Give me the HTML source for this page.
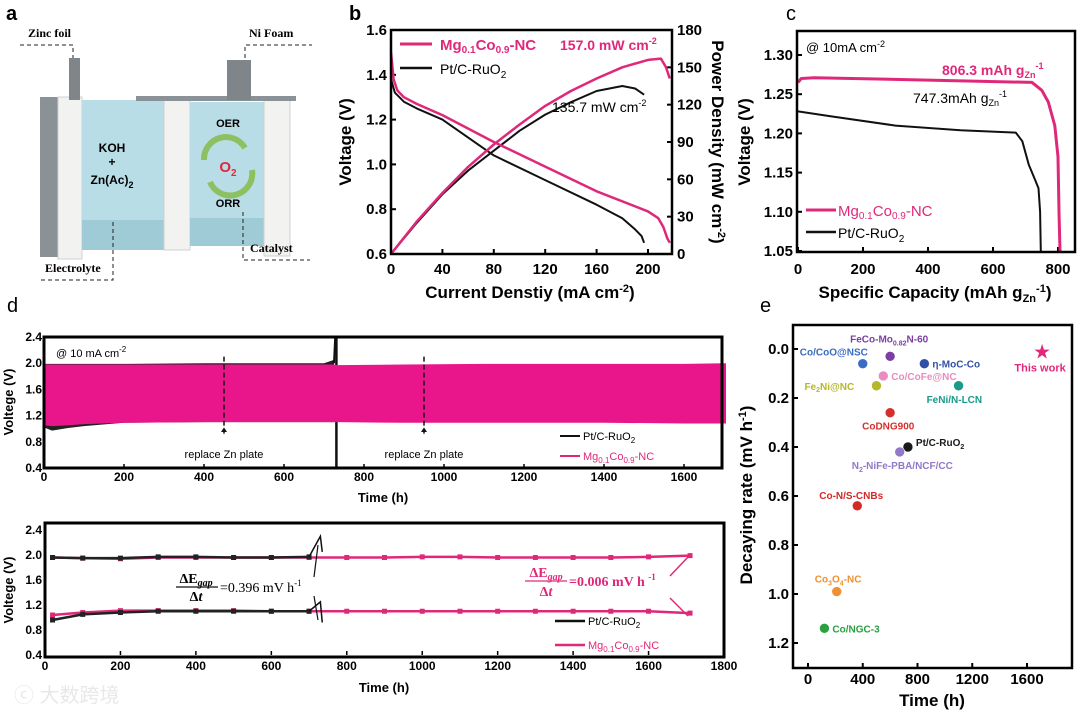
<!DOCTYPE html>
<html><head><meta charset="utf-8">
<style>
html,body{margin:0;padding:0;background:#fff;}
body{width:1080px;height:717px;overflow:hidden;font-family:"Liberation Sans","Noto Sans CJK SC",sans-serif;}
svg{position:absolute;left:0;top:0;font-family:"Liberation Sans","Noto Sans CJK SC",sans-serif;}
</style></head>
<body>
<svg id="fig" width="1080" height="717" viewBox="0 0 1080 717">
<g>
<text x="6" y="20" font-size="20" font-weight="bold">a</text>
<rect x="40" y="97" width="20" height="160" fill="#8a9298"/>
<rect x="58" y="97" width="24" height="162" fill="#f2f2f0" stroke="#d0d0d0"/>
<rect x="82" y="100" width="82" height="150" fill="#b9dde6"/>
<rect x="82" y="220" width="82" height="30" fill="#9fcbd6"/>
<rect x="164" y="100" width="26" height="150" fill="#f2f2f0" stroke="#d0d0d0"/>
<rect x="190" y="102" width="74" height="144" fill="#b9dde6"/>
<rect x="190" y="218" width="74" height="28" fill="#9fcbd6"/>
<rect x="264" y="98" width="26" height="158" fill="#f2f2f0" stroke="#d0d0d0"/>
<rect x="136" y="96" width="160" height="5" fill="#8a9298"/>
<rect x="69" y="58" width="11" height="42" fill="#7f8589"/>
<rect x="227" y="60" width="24" height="40" fill="#7f8589"/>
<text x="28" y="37" font-family="Liberation Serif, serif" font-size="12" font-weight="bold">Zinc foil</text>
<path d="M20 45 H73 V58" stroke="#222" stroke-dasharray="4,3" fill="none"/>
<text x="249" y="37" font-family="Liberation Serif, serif" font-size="12" font-weight="bold">Ni Foam</text>
<path d="M245 58 V45 H312" stroke="#222" stroke-dasharray="4,3" fill="none"/>
<text x="112" y="152" font-size="12" font-weight="bold" text-anchor="middle">KOH</text>
<text x="112" y="166" font-size="12" font-weight="bold" text-anchor="middle">+</text>
<text x="112" y="184" font-size="12" font-weight="bold" text-anchor="middle">Zn(Ac)<tspan font-size="9" dy="4">2</tspan></text>
<text x="228" y="127" font-size="11" font-weight="bold" text-anchor="middle">OER</text>
<path d="M204 160 A22 22 0 0 1 245 148" stroke="#8cc060" stroke-width="6" fill="none"/>
<path d="M252 170 A22 22 0 0 1 210 182" stroke="#8cc060" stroke-width="6" fill="none"/>
<text x="228" y="172" font-size="15" font-weight="bold" fill="#e0283a" text-anchor="middle">O<tspan font-size="10" dy="4">2</tspan></text>
<text x="228" y="207" font-size="11" font-weight="bold" text-anchor="middle">ORR</text>
<text x="45" y="272" font-family="Liberation Serif, serif" font-size="12" font-weight="bold">Electrolyte</text>
<path d="M113 222 V280 H38" stroke="#222" stroke-dasharray="4,3" fill="none"/>
<text x="250" y="252" font-family="Liberation Serif, serif" font-size="12" font-weight="bold">Catalyst</text>
<path d="M243 212 V260 H310" stroke="#222" stroke-dasharray="4,3" fill="none"/>
</g>
<g id="gb"></g><g id="gc"></g><g id="gd1"></g><g id="gd2"></g><g id="ge"></g>
<text x="14" y="702" font-size="20" fill="#e8e8e8">ⓒ 大数跨境</text>
</svg>
<script>
// ---- Panel b data ----
const bMgJ=[0,2,5,10,20,40,80,120,160,200,208,212,215,217];
const bMgV=[1.50,1.38,1.33,1.30,1.27,1.22,1.10,0.99,0.88,0.79,0.76,0.72,0.67,0.65];
const bPtJ=[0,3,10,20,40,80,120,160,180,190,195,197];
const bPtV=[1.38,1.32,1.28,1.25,1.20,1.04,0.93,0.82,0.76,0.71,0.68,0.65];
const bMgPJ=[0,20,40,60,80,100,120,140,160,180,200,210,214,217];
const bMgP=[0,26,49,70,88,104,119,131,141,150,156,157,150,141];
const bPtPJ=[0,20,40,60,80,100,120,140,160,180,190,197];
const bPtP=[0,25,48,67,83,99,112,122,131,135,133,128];
const bXTicks=[0,40,80,120,160,200];
const bYTicks=[0.6,0.8,1.0,1.2,1.4,1.6];
const bY2Ticks=[0,30,60,90,120,150,180];
// ---- Panel c data ----
const cMgQ=[0,10,50,400,720,750,770,790,800,803,806];
const cMgV=[1.265,1.270,1.271,1.268,1.265,1.255,1.240,1.210,1.170,1.100,1.050];
const cPtQ=[0,100,300,500,670,690,710,730,740,745,747];
const cPtV=[1.228,1.222,1.210,1.204,1.201,1.190,1.160,1.140,1.130,1.100,1.050];
const cXTicks=[0,200,400,600,800];
const cYTicks=[1.05,1.10,1.15,1.20,1.25,1.30];
// ---- Panel d (top) data ----
const dT=[0,20,60,100,200,400,600,700,725,735,900,1100,1400,1600,1705];
const dPinkUp=[1.98,1.98,1.98,1.98,1.98,1.98,1.98,1.98,1.98,1.97,1.98,1.99,1.99,1.99,2.00];
const dPinkLo=[1.05,1.04,1.05,1.07,1.09,1.10,1.10,1.10,1.10,1.10,1.09,1.09,1.09,1.08,1.08];
const dBlkT=[0,20,60,100,200,400,600,700,725];
const dBlkUp=[1.99,1.99,1.99,1.99,1.99,2.00,2.00,2.00,2.05];
const dBlkLo=[1.02,0.97,1.01,1.04,1.09,1.10,1.10,1.10,1.10];
const dXTicks=[0,200,400,600,800,1000,1200,1400,1600];
const dYTicks=[0.4,0.8,1.2,1.6,2.0,2.4];
const dReplace=[450,950];
// ---- Panel d (bottom) data ----
const d2PtT=[20,100,200,300,400,500,600,700];
const d2PtUp=[1.96,1.95,1.95,1.97,1.97,1.96,1.96,1.97];
const d2PtLo=[0.96,1.05,1.08,1.10,1.10,1.10,1.10,1.10];
const d2MgT=[20,100,200,300,400,500,600,700,800,900,1000,1100,1200,1300,1400,1500,1600,1710];
const d2MgUp=[1.96,1.95,1.94,1.96,1.96,1.96,1.96,1.96,1.96,1.96,1.97,1.97,1.96,1.96,1.96,1.96,1.97,1.99];
const d2MgLo=[1.04,1.08,1.11,1.11,1.11,1.11,1.10,1.10,1.10,1.10,1.10,1.10,1.10,1.10,1.10,1.10,1.10,1.07];
const d2XTicks=[0,200,400,600,800,1000,1200,1400,1600,1800];
// ---- Panel e data ----
const eNames=["Co/CoO@NSC","FeCo-Mo","η-MoC-Co","Co/CoFe@NC","Fe2Ni@NC","FeNi/N-LCN","CoDNG900","Pt/C-RuO2","N2-NiFe-PBA/NCF/CC","Co-N/S-CNBs","Co3O4-NC","Co/NGC-3"];
const eTime=[400,600,850,550,500,1100,600,730,670,360,210,120];
const eRate=[0.06,0.03,0.06,0.11,0.15,0.15,0.26,0.40,0.42,0.64,0.99,1.14];
const eColors=["#3a6cc4","#7a3fa2","#3050a8","#e88cc2","#b6b82c","#1a9a88","#d6302e","#1a1a1a","#9278c8","#d22a28","#f09030","#2aa040"];
const eStarTime=[1710];
const eStarRate=[0.01];
const eXTicks=[0,400,800,1200,1600];
const eYTicks=[0.0,0.2,0.4,0.6,0.8,1.0,1.2];

const NS="http://www.w3.org/2000/svg";
const PINK="#e0287a";
function mk(parent,tag,attrs){const e=document.createElementNS(NS,tag);for(const k in attrs)e.setAttribute(k,attrs[k]);parent.appendChild(e);return e;}
function lin(d0,d1,r0,r1){return v=>r0+(v-d0)*(r1-r0)/(d1-d0);}
function txt(p,x,y,s,size,opts){const t=mk(p,'text',Object.assign({x:x,y:y,'font-size':size,'font-weight':'bold'},opts||{}));t.innerHTML=s;return t;}
function poly(p,xs,ys,sx,sy,color,w){const pts=xs.map((v,i)=>sx(v).toFixed(1)+','+sy(ys[i]).toFixed(1)).join(' ');return mk(p,'polyline',{points:pts,fill:'none',stroke:color,'stroke-width':w,'stroke-linejoin':'round'});}
function box(p,x0,y0,x1,y1,w){return mk(p,'rect',{x:x0,y:y0,width:x1-x0,height:y1-y0,fill:'none',stroke:'#000','stroke-width':w});}
const SERIF='Liberation Serif, serif';

// ===== Panel b =====
(function(){
const g=document.getElementById('gb');


const sx=lin(0,200,391,648), sy=lin(0.6,1.6,254,30), sy2=lin(0,180,254,30);
txt(g,349,20,'b',20);
bXTicks.forEach(v=>{mk(g,'line',{x1:sx(v),x2:sx(v),y1:254,y2:249,stroke:'#000','stroke-width':2});const t=txt(g,sx(v),274,v,15,{'text-anchor':'middle'});});
bYTicks.forEach(v=>{mk(g,'line',{x1:391,x2:396,y1:sy(v),y2:sy(v),stroke:'#000','stroke-width':2});const t=txt(g,387,sy(v)+5,v.toFixed(1),15,{'text-anchor':'end'});});
bY2Ticks.forEach(v=>{mk(g,'line',{x1:667,x2:672,y1:sy2(v),y2:sy2(v),stroke:'#000','stroke-width':2});const t=txt(g,677,sy2(v)+5,v,15,{'text-anchor':'start'});});
let l;
l=poly(g,bPtJ,bPtV,sx,sy,'#111',2);
l=poly(g,bPtPJ,bPtP,sx,sy2,'#111',2);
l=poly(g,bMgJ,bMgV,sx,sy,PINK,2.5);
l=poly(g,bMgPJ,bMgP,sx,sy2,PINK,2.5);
box(g,391,30,672,254,2.5);
let t=txt(g,0,0,'Voltage (V)',17,{'text-anchor':'middle',transform:'translate(351,142) rotate(-90)'});
t=txt(g,0,0,'Power Density (mW cm<tspan font-size="11" dy="-6">-2</tspan><tspan dy="6">)</tspan>',17,{'text-anchor':'middle',transform:'translate(712,142) rotate(90)'});
t=txt(g,530,298,'Current Denstiy (mA cm<tspan font-size="11" dy="-6">-2</tspan><tspan dy="6">)</tspan>',17,{'text-anchor':'middle'});
mk(g,'line',{x1:400,x2:432,y1:44,y2:44,stroke:PINK,'stroke-width':3});
t=txt(g,440,50,'Mg<tspan font-size="10" dy="3">0.1</tspan><tspan dy="-3">Co</tspan><tspan font-size="10" dy="3">0.9</tspan><tspan dy="-3">-NC</tspan>',15,{fill:PINK});
txt(g,560,50,'157.0 mW cm<tspan font-size="9" dy="-6">-2</tspan>',14,{fill:PINK});
mk(g,'line',{x1:400,x2:432,y1:68,y2:68,stroke:'#111','stroke-width':2.5});
t=txt(g,440,74,'Pt/C-RuO<tspan font-size="10" dy="4">2</tspan>',14,{'font-weight':'normal'});
txt(g,552,112,'135.7 mW cm<tspan font-size="9" dy="-6">-2</tspan>',14,{'font-weight':'normal'});
})();

// ===== Panel c =====
(function(){
const g=document.getElementById('gc');


const sx=lin(0,800,798,1058), sy=lin(1.05,1.30,251,55);
txt(g,786,20,'c',20,{'font-weight':'normal'});
cXTicks.forEach(v=>{mk(g,'line',{x1:sx(v),x2:sx(v),y1:252,y2:247,stroke:'#000','stroke-width':2});const t=txt(g,sx(v),274,v,15,{'text-anchor':'middle'});});
cYTicks.forEach(v=>{mk(g,'line',{x1:797,x2:802,y1:sy(v),y2:sy(v),stroke:'#000','stroke-width':2});const t=txt(g,793,sy(v)+5,v.toFixed(2),15,{'text-anchor':'end'});});
let l=poly(g,cPtQ,cPtV,sx,sy,'#111',2);
l=poly(g,cMgQ,cMgV,sx,sy,PINK,3);
box(g,797,31,1075,252,2.5);
let t=txt(g,0,0,'Voltage (V)',17,{'text-anchor':'middle',transform:'translate(750,142) rotate(-90)'});
t=txt(g,935,298,'Specific Capacity (mAh g<tspan font-size="11" dy="4">Zn</tspan><tspan font-size="11" dy="-10">-1</tspan><tspan dy="6">)</tspan>',17,{'text-anchor':'middle'});
txt(g,806,52,'@ 10mA cm<tspan font-size="9" dy="-5">-2</tspan>',13,{'font-weight':'normal'});
txt(g,942,75,'806.3 mAh g<tspan font-size="9" dy="3">Zn</tspan><tspan font-size="9" dy="-9">-1</tspan>',14,{fill:PINK});
txt(g,913,103,'747.3mAh g<tspan font-size="9" dy="3">Zn</tspan><tspan font-size="9" dy="-9">-1</tspan>',14,{'font-weight':'normal'});
mk(g,'line',{x1:806,x2:836,y1:210,y2:210,stroke:PINK,'stroke-width':3});
t=txt(g,838,216,'Mg<tspan font-size="10" dy="3">0.1</tspan><tspan dy="-3">Co</tspan><tspan font-size="10" dy="3">0.9</tspan><tspan dy="-3">-NC</tspan>',15,{fill:PINK,'font-weight':'normal'});
mk(g,'line',{x1:806,x2:836,y1:232,y2:232,stroke:'#111','stroke-width':2.5});
t=txt(g,838,238,'Pt/C-RuO<tspan font-size="10" dy="4">2</tspan>',14,{'font-weight':'normal'});
})();

// ===== Panel d top =====
(function(){
const g=document.getElementById('gd1');


const sx=lin(0,1600,44,684), sy=lin(0.4,2.4,468,337);
txt(g,7,312,'d',20,{'font-weight':'normal'});
let pts=dBlkT.map((v,i)=>sx(v)+','+sy(dBlkUp[i])).concat(dBlkT.slice().reverse().map((v,i)=>sx(v)+','+sy(dBlkLo[dBlkT.length-1-i]))).join(' ');
let e=mk(g,'polygon',{points:pts,fill:'#222'});
mk(g,'line',{x1:sx(725),x2:sx(728),y1:sy(2.0),y2:sy(2.4),stroke:'#111','stroke-width':2});
mk(g,'line',{x1:sx(731),x2:sx(731),y1:sy(2.4),y2:sy(0.4),stroke:'#111','stroke-width':2.5});
pts=dT.map((v,i)=>sx(v)+','+sy(dPinkUp[i])).concat(dT.slice().reverse().map((v,i)=>sx(v)+','+sy(dPinkLo[dT.length-1-i]))).join(' ');
e=mk(g,'polygon',{points:pts,fill:'#e8168a'});
dReplace.forEach(v=>{mk(g,'line',{x1:sx(v),x2:sx(v),y1:sy(2.1),y2:sy(0.88),stroke:'#111','stroke-width':1.5,'stroke-dasharray':'5,3'});
 mk(g,'path',{d:`M${sx(v)-3} ${sy(0.95)} L${sx(v)} ${sy(1.02)} L${sx(v)+3} ${sy(0.95)} Z`,fill:'#111'});
 const t=txt(g,sx(v),sy(0.55),'replace Zn plate',11,{'text-anchor':'middle','font-weight':'normal'});});
dXTicks.forEach(v=>{mk(g,'line',{x1:sx(v),x2:sx(v),y1:468,y2:464,stroke:'#000','stroke-width':1.5});const t=txt(g,sx(v),481,v,12,{'text-anchor':'middle'});});
dYTicks.forEach(v=>{const t=txt(g,42,sy(v)+4,v.toFixed(1),12,{'text-anchor':'end'});});
box(g,44,337,722,468,3);
let t=txt(g,0,0,'Voltege (V)',13,{'text-anchor':'middle',transform:'translate(13,402) rotate(-90)'});
t=txt(g,383,502,'Time (h)',13,{'text-anchor':'middle'});
txt(g,56,357,'@ 10 mA cm<tspan font-size="8" dy="-5">-2</tspan>',11,{'font-weight':'normal'});
mk(g,'line',{x1:560,x2:580,y1:436,y2:436,stroke:'#111','stroke-width':2});
t=txt(g,583,440,'Pt/C-RuO<tspan font-size="8" dy="3">2</tspan>',11,{'font-weight':'normal'});
mk(g,'line',{x1:560,x2:580,y1:456,y2:456,stroke:PINK,'stroke-width':2});
t=txt(g,583,460,'Mg<tspan font-size="8" dy="3">0.1</tspan><tspan dy="-3">Co</tspan><tspan font-size="8" dy="3">0.9</tspan><tspan dy="-3">-NC</tspan>',11,{fill:PINK,'font-weight':'normal'});
})();

// ===== Panel d bottom =====
(function(){
const g=document.getElementById('gd2');


const sx=lin(0,1800,45,724), sy=lin(0.4,2.4,655,530);
function series(ts,ys,color,name){
 const l=poly(g,ts,ys,sx,sy,color,2.5);
 ts.forEach((v,i)=>{const m=mk(g,'rect',{x:sx(v)-2.5,y:sy(ys[i])-2.5,width:5,height:5,fill:color});});
}
series(d2MgT,d2MgUp,PINK,'mg-charge-line');
series(d2MgT,d2MgLo,PINK,'mg-discharge-line');
series(d2PtT,d2PtUp,'#222','pt-charge-line');
series(d2PtT,d2PtLo,'#222','pt-discharge-line');
mk(g,'path',{d:`M${sx(700)} ${sy(1.97)} L${sx(730)} ${sy(2.3)} L${sx(735)} ${sy(2.05)} M${sx(700)} ${sy(1.10)} L${sx(730)} ${sy(1.25)} L${sx(735)} ${sy(0.92)}`,stroke:'#111','stroke-width':1.5,fill:'none'});
d2XTicks.forEach(v=>{mk(g,'line',{x1:sx(v),x2:sx(v),y1:655,y2:651,stroke:'#000','stroke-width':1.5});const t=txt(g,sx(v),670,v,12,{'text-anchor':'middle'});});
dYTicks.forEach(v=>{const t=txt(g,42,sy(v)+4,v.toFixed(1),12,{'text-anchor':'end'});});
box(g,45,523,724,657,3);
let t=txt(g,0,0,'Voltege (V)',13,{'text-anchor':'middle',transform:'translate(13,590) rotate(-90)'});
t=txt(g,384,692,'Time (h)',13,{'text-anchor':'middle'});
const f1=mk(g,'g',{});
txt(f1,196,583,'ΔE<tspan font-style="italic" font-size="10" dy="3">gap</tspan>',14,{'text-anchor':'middle','font-family':SERIF});
mk(f1,'line',{x1:176,x2:218,y1:587,y2:587,stroke:'#111','stroke-width':1.2});
txt(f1,196,601,'Δ<tspan font-style="italic">t</tspan>',14,{'text-anchor':'middle','font-family':SERIF});
txt(f1,220,592,'=0.396 mV h<tspan font-size="9" dy="-6">-1</tspan>',14,{'font-family':SERIF,'font-weight':'normal'});
const f2=mk(g,'g',{fill:PINK});
txt(f2,546,577,'ΔE<tspan font-style="italic" font-size="10" dy="3">gap</tspan>',14,{'text-anchor':'middle','font-family':SERIF,fill:PINK});
mk(f2,'line',{x1:525,x2:567,y1:581,y2:581,stroke:PINK,'stroke-width':1.2});
txt(f2,546,596,'Δ<tspan font-style="italic">t</tspan>',14,{'text-anchor':'middle','font-family':SERIF,fill:PINK});
txt(f2,569,586,'=0.006 mV h <tspan font-size="9" dy="-6">-1</tspan>',14,{'font-family':SERIF,fill:PINK});
mk(g,'path',{d:`M670 576 L688 557 M670 598 L688 616`,stroke:PINK,'stroke-width':1.5});
mk(g,'path',{d:`M314 577 L318 545 M314 596 L318 620`,stroke:'#111','stroke-width':1.2});
mk(g,'line',{x1:555,x2:585,y1:621,y2:621,stroke:'#111','stroke-width':2.5});
t=txt(g,588,625,'Pt/C-RuO<tspan font-size="8" dy="3">2</tspan>',11,{'font-weight':'normal'});
mk(g,'line',{x1:555,x2:585,y1:645,y2:645,stroke:PINK,'stroke-width':2.5});
t=txt(g,588,649,'Mg<tspan font-size="8" dy="3">0.1</tspan><tspan dy="-3">Co</tspan><tspan font-size="8" dy="3">0.9</tspan><tspan dy="-3">-NC</tspan>',11,{fill:PINK,'font-weight':'normal'});
})();

// ===== Panel e =====
(function(){
const g=document.getElementById('ge');


const sx=lin(0,1600,808,1027), sy=lin(0,1.2,349,643);
txt(g,760,312,'e',20,{'font-weight':'normal'});
eXTicks.forEach(v=>{mk(g,'line',{x1:sx(v),x2:sx(v),y1:668,y2:663,stroke:'#000','stroke-width':2});const t=txt(g,sx(v),684,v,15,{'text-anchor':'middle'});});
eYTicks.forEach(v=>{mk(g,'line',{x1:793,x2:798,y1:sy(v),y2:sy(v),stroke:'#000','stroke-width':2});const t=txt(g,789,sy(v)+5,v.toFixed(1),15,{'text-anchor':'end'});});
const labels=[
 ['Co/CoO@NSC',-63,-8,'start'],['FeCo-Mo<tspan font-size="7" dy="3">0.82</tspan><tspan dy="-3">N-60</tspan>',-40,-14,'start'],['η-MoC-Co',8,4,'start'],
 ['Co/CoFe@NC',8,4,'start'],['Fe<tspan font-size="7" dy="2">2</tspan><tspan dy="-2">Ni@NC</tspan>',-72,4,'start'],['FeNi/N-LCN',-32,17,'start'],
 ['CoDNG900',-28,17,'start'],['Pt/C-RuO<tspan font-size="7" dy="3">2</tspan>',8,-1,'start'],['N<tspan font-size="7" dy="3">2</tspan><tspan dy="-3">-NiFe-PBA/NCF/CC</tspan>',-48,17,'start'],
 ['Co-N/S-CNBs',-38,-7,'start'],['Co<tspan font-size="7" dy="3">3</tspan><tspan dy="-3">O</tspan><tspan font-size="7" dy="3">4</tspan><tspan dy="-3">-NC</tspan>',-22,-9,'start'],['Co/NGC-3',8,4,'start']];
eTime.forEach((v,i)=>{
 const c=mk(g,'circle',{cx:sx(v),cy:sy(eRate[i]),r:5,fill:eColors[i],stroke:'#fff','stroke-width':0.6});
 
 
 const L=labels[i];
 const t=txt(g,sx(v)+L[1],sy(eRate[i])+L[2],L[0],10,{fill:eColors[i],'text-anchor':L[3]});
 
 
});
eStarTime.forEach((v,i)=>{
 const t=txt(g,sx(v),sy(eStarRate[i])+7,'★',20,{fill:PINK,'text-anchor':'middle','font-family':'DejaVu Sans, sans-serif','font-weight':'normal'});
 
 
 const l=txt(g,sx(v)-2,sy(eStarRate[i])+20,'This work',11,{fill:PINK,'text-anchor':'middle'});
 
 
});
box(g,793,325,1072,668,2.5);
let t=txt(g,0,0,'Decaying rate (mV h<tspan font-size="11" dy="-6">-1</tspan><tspan dy="6">)</tspan>',17,{'text-anchor':'middle',transform:'translate(752,495) rotate(-90)'});
t=txt(g,932,706,'Time (h)',17,{'text-anchor':'middle'});
})();
</script>
</body></html>
